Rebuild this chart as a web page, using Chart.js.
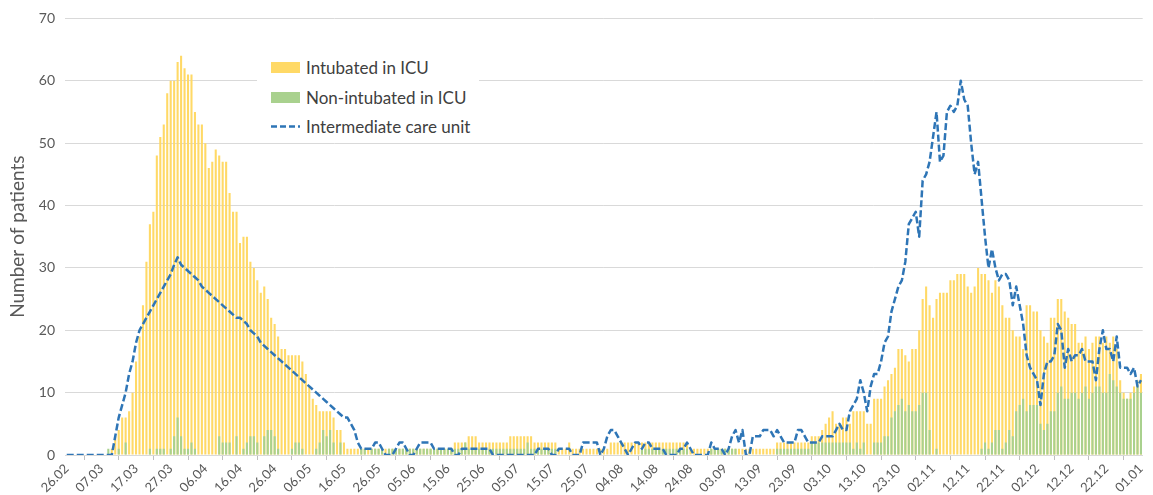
<!DOCTYPE html>
<html>
<head>
<meta charset="utf-8">
<script src="https://cdn.jsdelivr.net/npm/chart.js@4/dist/chart.umd.min.js"></script>
<style>
  body { margin: 0; background: #fff; }
  #wrap { position: relative; width: 1153px; height: 495px; }
  #legend { position: absolute; left: 257px; top: 54px; width: 222px; height: 88px; background: #fff;
            font-family: Lato, "Open Sans", sans-serif; font-size: 17px; color: #404040; }
  #legend .row { position: absolute; left: 14px; height: 20px; display: flex; align-items: center; white-space: nowrap; }
  #legend .sw { width: 29px; height: 11px; margin-right: 6px; }
</style>
</head>
<body>
<div id="wrap">
  <canvas id="chart" width="1153" height="495"></canvas>
  <div id="legend">
    <div class="row" style="top:3px"><div class="sw" style="background:#FFD966"></div>Intubated in ICU</div>
    <div class="row" style="top:33px"><div class="sw" style="background:#A9D18E"></div>Non-intubated in ICU</div>
    <div class="row" style="top:62px"><svg class="sw" width="29" height="11"><line x1="0" y1="5.5" x2="29" y2="5.5" stroke="#2E75B6" stroke-width="2.5" stroke-dasharray="6,3"/></svg>Intermediate care unit</div>
  </div>
</div>
<script>
// day-by-day categories, 26.02 .. 01.01
const startDay = new Date(2020, 1, 26)
const dayCount = 311
const days = []
for (let i = 0; i < dayCount; i++) {
  const d = new Date(startDay.getFullYear(), startDay.getMonth(), startDay.getDate() + i)
  days.push(String(d.getDate()).padStart(2, '0') + '.' + String(d.getMonth() + 1).padStart(2, '0'))
}

// labels shown under the axis, one every 10 days
const tickLabels = ['26.02','07.03','17.03','27.03','06.04','16.04','26.04','06.05','16.05','26.05',
  '05.06','15.06','25.06','05.07','15.07','25.07','04.08','14.08','24.08','03.09','13.09','23.09',
  '03.10','13.10','23.10','02.11','12.11','22.11','02.12','12.12','22.12','01.01']

const intubated = [
  0,0,0,0,0,0,0,0,0,0,
  0,0,0,1,3,4,6,6,7,10,
  15,19,24,31,37,39,48,51,53,58,
  60,60,63,64,62,61,61,55,53,53,
  50,46,47,49,48,47,47,42,39,39,
  34,35,35,31,30,28,26,27,25,22,
  21,19,17,17,16,16,16,16,15,13,
  11,9,8,7,7,7,7,6,4,4,
  2,1,1,1,1,1,1,1,1,1,
  1,1,1,1,1,1,1,1,1,1,
  1,1,1,1,1,1,1,1,1,1,
  1,1,2,2,2,2,3,3,3,2,
  2,2,2,2,2,2,2,2,3,3,
  3,3,3,3,3,2,2,2,2,2,
  2,2,1,1,1,2,1,1,1,1,
  1,1,1,1,1,1,1,2,2,2,
  2,2,2,2,2,2,2,2,2,2,
  2,2,2,2,2,2,2,2,2,2,
  1,1,1,1,1,1,1,1,1,1,
  1,1,1,1,1,1,1,1,1,1,
  1,1,1,1,1,2,2,2,2,2,
  2,2,2,2,2,3,3,3,4,5,
  6,7,5,5,6,6,5,7,7,7,
  7,5,5,9,9,9,11,12,13,14,
  17,17,16,15,17,17,20,25,27,24,
  22,25,26,26,26,28,28,29,29,29,
  27,26,27,30,29,29,28,26,28,27,
  24,22,22,20,19,19,17,24,24,23,
  23,20,19,18,22,22,25,25,23,22,
  21,21,18,18,19,17,18,19,19,18,
  19,18,19,17,12,10,9,10,11,12,
  13
]

const nonIntubated = [
  0,0,0,0,0,0,0,0,0,0,
  0,0,1,0,0,1,0,2,0,0,
  0,0,0,0,1,0,1,1,1,0,
  1,3,6,3,1,1,2,1,0,0,
  0,0,0,0,3,2,2,2,0,3,
  0,1,2,3,3,2,0,3,4,4,
  3,1,0,0,0,1,2,2,1,0,
  0,0,1,2,4,3,4,2,0,2,
  0,0,0,0,0,1,1,0,1,1,
  1,1,0,1,1,1,1,1,1,1,
  1,1,1,1,1,1,1,1,1,1,
  1,1,1,1,1,2,1,1,1,1,
  1,1,1,1,1,1,1,1,1,1,
  1,1,1,2,1,1,1,1,1,1,
  1,1,0,0,0,0,0,0,0,0,
  0,0,0,0,0,0,0,0,0,0,
  0,0,0,0,0,0,1,1,1,1,
  1,1,1,1,1,1,1,1,1,1,
  0,0,0,0,0,0,1,1,1,1,
  1,1,1,1,0,0,0,0,0,0,
  0,0,0,0,0,1,1,1,1,1,
  1,1,1,1,1,2,2,2,2,2,
  2,2,2,2,2,2,2,1,2,1,
  2,0,0,2,2,2,3,3,6,7,
  8,9,7,8,7,7,8,10,10,4,
  0,1,0,0,0,0,0,0,0,0,
  0,0,0,0,1,2,1,2,4,4,
  1,2,4,3,7,8,9,7,8,8,
  8,5,4,5,7,7,10,11,9,9,
  10,10,9,10,11,9,10,11,11,10,
  10,13,12,11,10,9,9,9,10,11,
  10
]

const intermediate = [
  0,0,0,0,0,0,0,0,0,0,
  0,0,0,0,3,6,8,10,13,15,
  18,20,21,22,23,24,25,26,27,28,
  29,30.5,31.7,30.5,30,29.5,29,28.5,28,27,
  26.5,26,25.5,25,24.5,24,23.5,23,22.5,22,
  22,21.5,21,20,19.5,19,18,17.5,17,16.5,
  16,15.5,15,14.5,14,13.5,13,12.5,12,11.5,
  11,10.5,10,9.5,9,8.5,8,7.5,7,6.5,
  6,6,5,4,2,1,1,1,1,2,
  2,1,0,0,0,1,2,2,1,0,
  0,1,2,2,2,2,1,1,1,1,
  1,1,0,0,1,1,1,1,1,1,
  1,1,1,0,0,0,0,0,0,0,
  0,0,0,0,0,0,1,1,1,1,
  0,0,1,1,1,1,0,0,0,2,
  2,2,2,2,0,1,3,4,4,3,
  2,1,0,1,2,2,1,2,2,1,
  1,1,1,0,0,0,0,1,1,2,
  1,0,0,0,0,0,2,1,1,1,
  0,1,3,4,2,4,0,0,3,3,
  3,4,4,4,3,4,3,2,2,2,
  2,4,4,3,2,2,2,2,3,3,
  3,3,4,5,4,4,7,8,9,12,
  10,7,11,13,13,15,18,19,23,25,
  27,28,31,37,38,39,35,44,45,47,
  51,55,47,48,55,56,55,56,60,57,
  56,50,45,47,41,35,30,33,30,28,
  29,29,28,24,27,24,21,16,14,13,
  12,8,13,15,15,16,21,20,14,17,
  15,16,16,17,15,15,15,12,17,20,
  17,17,15,19,14,14,14,13,14,11,
  12
]

const labelFont = "Lato, 'Open Sans', sans-serif"

new Chart(document.getElementById('chart'), {
  type: 'bar',
  data: {
    labels: days,
    datasets: [
      {
        label: 'Intubated in ICU',
        data: intubated,
        backgroundColor: '#FFD966',
        grouped: false,
        barPercentage: 0.6,
        categoryPercentage: 1,
        order: 3
      },
      {
        label: 'Non-intubated in ICU',
        data: nonIntubated,
        backgroundColor: '#A9D18E',
        grouped: false,
        barPercentage: 0.6,
        categoryPercentage: 1,
        order: 2
      },
      {
        type: 'line',
        label: 'Intermediate care unit',
        data: intermediate,
        borderColor: '#2E75B6',
        borderWidth: 2.5,
        borderDash: [7, 3],
        borderJoinStyle: 'round',
        pointRadius: 0,
        tension: 0,
        fill: false,
        order: 1
      }
    ]
  },
  options: {
    responsive: false,
    animation: false,
    devicePixelRatio: 1,
    layout: { padding: { top: 18, right: 0, left: 0, bottom: 0 } },
    plugins: { legend: { display: false }, tooltip: { enabled: false } },
    scales: {
      x: {
        offset: true,
        grid: {
          offset: true,
          drawOnChartArea: false,
          tickLength: 5,
          color: '#bfbfbf'
        },
        border: { color: '#d9d9d9' },
        ticks: {
          autoSkip: false,
          minRotation: 45,
          maxRotation: 45,
          padding: 1,
          color: '#595959',
          font: { family: labelFont, size: 13 },
          callback: (v, i) => i % 10 === 0 ? tickLabels[i / 10] : null
        },
        afterFit: (scale) => { scale.height = 40 }
      },
      y: {
        min: 0,
        max: 70,
        grid: { color: '#d9d9d9', drawTicks: false },
        border: { display: false },
        ticks: {
          stepSize: 10,
          padding: 10,
          color: '#595959',
          font: { family: labelFont, size: 14 }
        },
        title: {
          display: true,
          text: 'Number of patients',
          color: '#595959',
          font: { family: labelFont, size: 19 },
          padding: { top: 6, bottom: 0 }
        },
        afterFit: (scale) => { scale.width = 65 }
      }
    }
  }
})
</script>
</body>
</html>
